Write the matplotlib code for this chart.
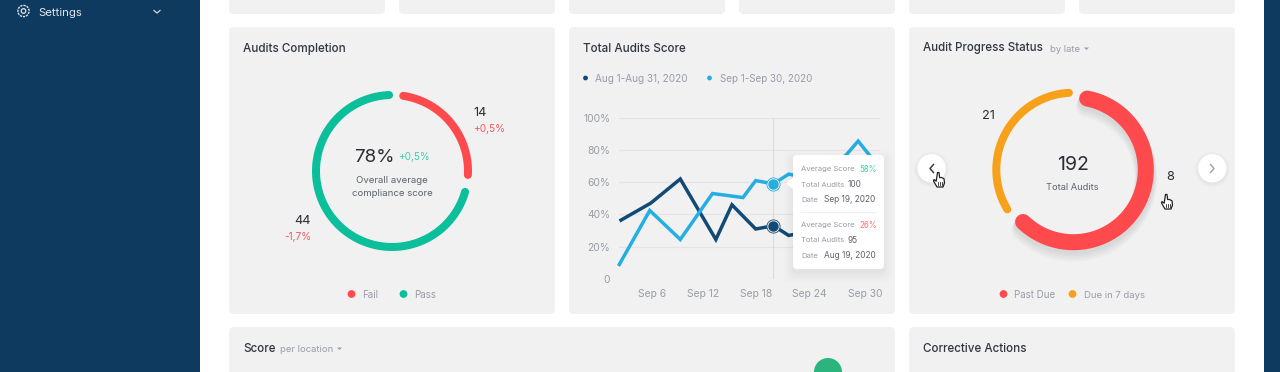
import numpy as np
import matplotlib
matplotlib.use("Agg")
import matplotlib.pyplot as plt
from matplotlib.patches import FancyBboxPatch, Rectangle, Circle, Polygon
import matplotlib.patheffects as pe

plt.rcParams['font.family'] = ['Inter', 'DejaVu Sans']

# ---- data ----
completion_labels = ["Fail", "Pass"]
completion_shares = [26.4, 73.6]
completion_colors = ["#ff4a4d", "#0abf9a"]
progress_labels = ["Past Due", "Due in 7 days"]
progress_shares = [63.3, 36.7]
progress_colors = ["#ff4a4d", "#f7a11a"]

score_y_ticks = [0, 20, 40, 60, 80, 100]
score_y_labels = ["0", "20%", "40%", "60%", "80%", "100%"]
date_ticks = [4.9, 10.9, 17.1, 23.4, 30.0]
date_labels = ["Sep 6", "Sep 12", "Sep 18", "Sep 24", "Sep 30"]
aug_days = [1.2, 4.7, 8.2, 12.4, 14.3, 17.1, 19.2, 21.0, 24.0]
aug_score = [36.5, 47, 62, 24.5, 46, 31, 33, 27, 30]
sep_days = [1.0, 4.6, 8.2, 12.0, 15.6, 17.1, 19.2, 21.0, 24.0, 27.8, 29.2, 30.5]
sep_score = [9, 42.5, 24.5, 53, 50.5, 61, 59, 65, 62, 77, 85.5, 77]

W, H = 1280, 372
fig = plt.figure(figsize=(W / 100, H / 100), dpi=100, facecolor="white")
bg = fig.add_axes([0, 0, 1, 1])
bg.set_xlim(0, W); bg.set_ylim(H, 0); bg.axis("off")

CARD = "#f1f1f2"
INK = "#33363f"
GREY = "#9a9ca6"
MID = "#5f626c"
NAVY = "#0d3a5e"

def rbox(x0, y0, x1, y1, r=5, fc=CARD, z=1, **kw):
    p = FancyBboxPatch((x0 + r, y0 + r), x1 - x0 - 2 * r, y1 - y0 - 2 * r,
                       boxstyle=f"round,pad={r},rounding_size={r}",
                       fc=fc, ec="none", zorder=z, **kw)
    bg.add_patch(p)

def txt(x, y, s, size=8, color=INK, ha="left", weight="normal", z=10):
    bg.text(x, y + 1, s, fontsize=size, color=color, ha=ha, va="center",
            fontweight=weight, zorder=z)

# sidebar and right strip
bg.add_patch(Rectangle((0, 0), 200, H, fc=NAVY, ec="none", zorder=1))
bg.add_patch(Rectangle((1264, 0), 16, H, fc=NAVY, ec="none", zorder=1))
txt(38, 11.5, "Settings", 8.2, "#dfe6ee")
bg.plot([154, 157, 160], [10.5, 13, 10.5], color="#cfd9e3", lw=0.9, zorder=5)
bg.add_patch(Circle((23.5, 11), 2.3, fc="none", ec="#dfe6ee", lw=0.9, zorder=5))
bg.add_patch(Circle((23.5, 11), 5.6, fc="none", ec="#dfe6ee", lw=1.0, ls=(0, (1.6, 0.7)), zorder=5))

# cards
for x0 in [229, 399, 569, 739, 909, 1079]:
    rbox(x0, -20, x0 + 156, 14)
for x0 in [229, 569, 909]:
    rbox(x0, 27, x0 + 326, 314)
rbox(229, 327, 895, 400)
rbox(909, 327, 1235, 400)

txt(243, 48.2, "Audits Completion", 8.4, weight="medium")
txt(583, 47.5, "Total Audits Score", 8.4, weight="medium")
txt(923, 47.5, "Audit Progress Status", 8.3, weight="medium")
txt(1049.5, 48, "by late", 6.8, GREY)
bg.add_patch(Polygon([[1084, 47.5], [1089, 47.5], [1086.5, 50]], fc=GREY, ec="none", zorder=5))
txt(243, 347.5, "Score", 8.4, weight="medium")
txt(280.5, 348, "per location", 6.8, GREY)
bg.add_patch(Polygon([[337, 347.5], [342, 347.5], [339.5, 350]], fc=GREY, ec="none", zorder=5))
txt(923, 347.5, "Corrective Actions", 8.4, weight="medium")
bg.add_patch(Circle((828, 372), 14, fc="#2bb47e", ec="none", zorder=3))


def polar_axes(cx, cy, R):
    ax = fig.add_axes([(cx - R) / W, 1 - (cy + R) / H, 2 * R / W, 2 * R / H], projection="polar")
    ax.set_theta_zero_location("N")
    ax.set_theta_direction(-1)
    ax.set_ylim(0, 1)
    ax.axis("off")
    ax.patch.set_alpha(0)
    return ax


def arcs(ax, shares, colors, rotation, pads, radii, widths, shadows):
    start = rotation
    for share, c, (p0, p1), r, w, sh in zip(shares, colors, pads, radii, widths, shadows):
        end = start + share * 3.6
        th = np.radians(np.linspace(start + p0, end - p1, 200))
        effects = [pe.Normal()]
        if sh:
            effects = [pe.SimpleLineShadow(offset=(0, -k), shadow_color="#000000",
                                           alpha=0.018, linewidth=w * 0.72 + k * 0.8)
                       for k in (6, 5, 4, 3, 2)] + [pe.Normal()]
        ax.plot(th, np.full_like(th, r), color=c, lw=w * 0.72,
                solid_capstyle="round", path_effects=effects, clip_on=False)
        start = end

# donut 1
ax1 = polar_axes(392, 171, 90)
arcs(ax1, completion_shares, completion_colors, 3.2,
     [(5.3, 5.3), (7.7, 5.4)], [76 / 90, 76 / 90], [8, 8], [False, False])
txt(374.5, 156, "78%", 13.5, "#2b2d33", ha="center")
txt(398, 155.5, "+0,5%", 7.2, "#3ccfa8")
txt(392, 179.5, "Overall average", 6.9, MID, ha="center")
txt(392, 192, "compliance score", 6.9, MID, ha="center")
txt(480, 112, "14", 9.2, "#2b2d33", ha="center")
txt(473, 127.5, "+0,5%", 7.3, "#ef5b5e")
txt(302.5, 219.5, "44", 9.2, "#2b2d33", ha="center")
txt(311, 235.5, "-1,7%", 7.3, "#ef5b5e", ha="right")
bg.add_patch(Circle((351.5, 294), 3.9, fc=completion_colors[0], ec="none", zorder=5))
txt(362.5, 294, completion_labels[0], 7.1, GREY)
bg.add_patch(Circle((403.5, 294), 3.9, fc=completion_colors[1], ec="none", zorder=5))
txt(414.5, 294, completion_labels[1], 7.1, GREY)

# donut 2
ax3 = polar_axes(1073.3, 169.7, 92)
arcs(ax3, progress_shares, progress_colors, 3.5,
     [(7.5, 7.5), (7.6, 6.8)], [72.5 / 92, 77 / 92], [16, 8], [True, False])
txt(1072.5, 164.5, "192", 14, "#2b2d33", ha="center")
txt(1072, 186, "Total Audits", 6.7, MID, ha="center")
txt(988.5, 115, "21", 9.2, "#2b2d33", ha="center")
txt(1170.5, 176.5, "8", 9.2, "#2b2d33", ha="center")
bg.add_patch(Circle((1003.5, 294), 3.9, fc=progress_colors[0], ec="none", zorder=5))
txt(1014.5, 294, progress_labels[0], 7.0, GREY)
bg.add_patch(Circle((1072.5, 294), 3.9, fc=progress_colors[1], ec="none", zorder=5))
txt(1083.5, 294, progress_labels[1], 6.85, GREY)

# carousel buttons
for cx, col, pts in [(931.6, "#3a3d45", [[933.5, 164.5], [930, 168.5], [933.5, 172.5]]),
                     (1212.3, "#a5a7ae", [[1210.5, 164.5], [1214, 168.5], [1210.5, 172.5]])]:
    for k, a in zip((4, 3, 2, 1), (0.008, 0.01, 0.012, 0.014)):
        bg.add_patch(Circle((cx, 169.5), 14.2 + k, fc="black", alpha=a, ec="none", zorder=4))
    bg.add_patch(Circle((cx, 168.3), 14.2, fc="white", ec="none", zorder=5))
    bg.plot(*zip(*pts), color=col, lw=1.1, zorder=6)


HAND_SHAPE = [(-1.5, -7.5), (0, -7.5), (0.6, -2.5), (2.5, -2.5), (5, -1.2), (5.5, 3), (4, 7),
              (-2, 7), (-5.5, 1), (-5, -0.5), (-2.8, 1.2)]

def hand(x, y):
    pts = [(x + a, y + b) for a, b in HAND_SHAPE]
    bg.add_patch(Polygon(pts, closed=True, fc="white", ec="#222222", lw=0.9, joinstyle="round", zorder=8))
    for dx in (-0.7, 1.0, 2.7):
        bg.plot([x + dx, x + dx], [y + 2, y + 5], color="#222222", lw=0.6, zorder=9)

hand(939, 180)
hand(1167, 202)

# line chart: day 1 sits at px 619.3, 8.47 px per day; 0 at px 279, 100 at px 117.7
ax_left, ax_right = 619.3, 880.0
ax_top, ax_bot = 117.7, 279.0
ax2 = fig.add_axes([ax_left / W, 1 - ax_bot / H, (ax_right - ax_left) / W, (ax_bot - ax_top) / H])
ax2.set_xlim(1, 1 + (ax_right - ax_left) / 8.47)
ax2.set_ylim(0, 100)
ax2.patch.set_alpha(0)
for s in ax2.spines.values():
    s.set_visible(False)
ax2.set_yticks(score_y_ticks, score_y_labels)
ax2.set_xticks(date_ticks, date_labels)
ax2.tick_params(length=0, labelsize=7.4, labelcolor=GREY)
ax2.tick_params(axis="x", pad=7.5)
ax2.tick_params(axis="y", pad=6.5)
ax2.set_axisbelow(True)
ax2.grid(axis="y", color="#e4e4e6", lw=0.9)
ax2.grid(axis="x", visible=False)
ax2.axvline(19.2, color="#dcdcdf", lw=0.8, zorder=1)
AUG, SEP = "#124a75", "#25aee2"
ax2.plot(aug_days, aug_score, color=AUG, lw=2.5, solid_joinstyle="miter", zorder=3, clip_on=False)
ax2.plot(sep_days, sep_score, color=SEP, lw=2.5, solid_joinstyle="miter", zorder=3, clip_on=False)
ax2.plot([19.2], [33], "o", ms=9.5, mfc="#f1f1f2", mec=AUG, mew=0.6, zorder=4)
ax2.plot([19.2], [33], "o", ms=6.5, color=AUG, zorder=5)
ax2.plot([19.2], [59], "o", ms=9.5, mfc="#f1f1f2", mec=SEP, mew=0.6, zorder=4)
ax2.plot([19.2], [59], "o", ms=6.5, color=SEP, zorder=5)

# legend
bg.add_patch(Circle((585.5, 78), 2.4, fc=AUG, ec="none", zorder=5))
txt(595, 77.8, "Aug 1-Aug 31, 2020", 7.2, GREY)
bg.add_patch(Circle((709.5, 78), 2.4, fc=SEP, ec="none", zorder=5))
txt(719.5, 77.8, "Sep 1-Sep 30, 2020", 7.05, GREY)

# tooltip on its own overlay axes
tp = fig.add_axes([0, 0, 1, 1])
tp.set_xlim(0, W); tp.set_ylim(H, 0); tp.axis("off"); tp.patch.set_alpha(0)
for k, a in zip((9, 7, 5, 3, 1), (0.006, 0.008, 0.01, 0.012, 0.014)):
    tp.add_patch(FancyBboxPatch((793 - k + 4, 156 - k + 8), 91 + 2 * k - 8, 113 + 2 * k - 8,
                                boxstyle="round,pad=4,rounding_size=5", fc="black", ec="none", alpha=a))
tp.add_patch(FancyBboxPatch((796, 158), 85, 108, boxstyle="round,pad=3,rounding_size=4",
                            fc="white", ec="none", zorder=3))
tp.add_patch(Polygon([[793, 178], [786, 183.5], [793, 189]], fc="white", ec="none", zorder=3))

def tt(x, y, s, c=GREY, size=5.5, ha="left"):
    tp.text(x, y + 0.5, s, fontsize=size, color=c, ha=ha, va="center", zorder=5)

tt(801, 169, "Average Score")
tt(876.5, 169, "58%", "#37d0a8", 5.7, ha="right")
tt(801, 184.3, "Total Audits")
tt(848, 184.3, "100", MID, 6.0)
tt(801, 199.3, "Date")
tt(823.5, 199.3, "Sep 19, 2020", MID, 6.0)
tp.plot([801, 876], [212, 212], color="#f0f0f2", lw=0.8, zorder=4)
tt(801, 224.7, "Average Score")
tt(876.5, 224.7, "26%", "#ff6b6e", 5.7, ha="right")
tt(801, 239.7, "Total Audits")
tt(848, 239.7, "95", MID, 6.0)
tt(801, 255, "Date")
tt(823.5, 255, "Aug 19, 2020", MID, 6.0)

fig.savefig("out.png", dpi=100, facecolor="white")
